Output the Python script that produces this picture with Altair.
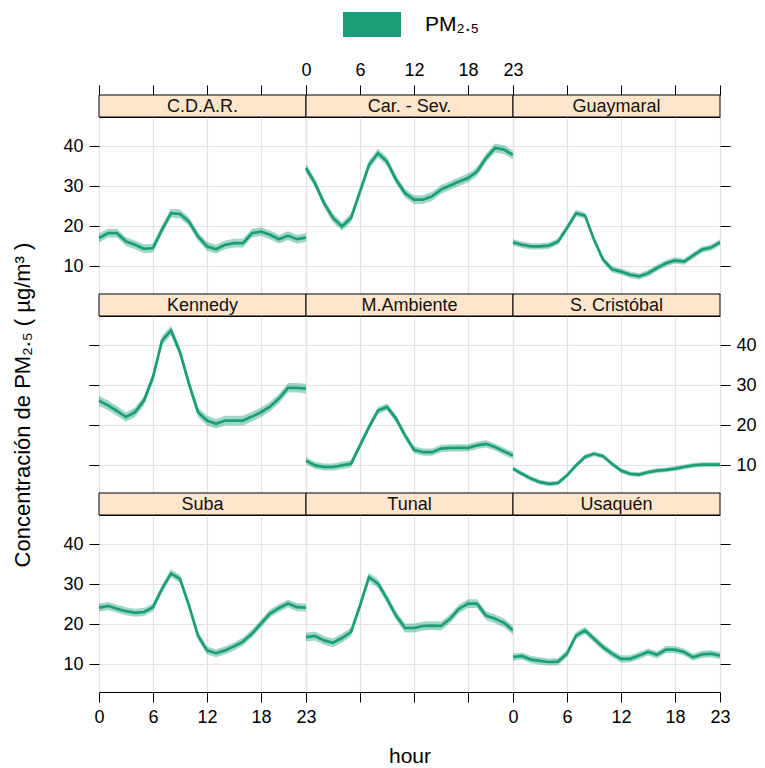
import altair as alt
import pandas as pd

hours = list(range(24))
stations = ["C.D.A.R.", "Car. - Sev.", "Guaymaral", "Kennedy", "M.Ambiente",
            "S. Cristóbal", "Suba", "Tunal", "Usaquén"]

cdar = [17.1, 18.3, 18.3, 16.2, 15.4, 14.4, 14.6, 19.2, 23.3, 23.1, 21.2, 17.5,
        15.0, 14.3, 15.4, 15.8, 15.8, 18.3, 18.7, 17.9, 16.8, 17.7, 16.8, 17.2]
carsev = [34.6, 30.8, 25.8, 22.1, 20.0, 22.1, 28.7, 35.4, 38.3, 36.2, 31.7, 28.3,
          26.7, 26.7, 27.5, 29.2, 30.2, 31.2, 32.1, 33.7, 37.1, 39.6, 39.2, 37.9]
guaymaral = [16.0, 15.4, 15.0, 15.0, 15.2, 16.2, 19.6, 23.3, 22.7, 16.7, 11.7, 9.3,
             8.7, 7.9, 7.5, 8.3, 9.6, 10.8, 11.5, 11.2, 12.7, 14.2, 14.7, 16.0]
kennedy = [26.2, 25.0, 23.6, 22.1, 23.3, 26.2, 32.1, 41.2, 43.7, 38.3, 30.4, 23.3,
           21.2, 20.4, 21.2, 21.2, 21.2, 22.2, 23.3, 24.7, 26.7, 29.4, 29.4, 29.2]
mambiente = [11.2, 10.0, 9.6, 9.6, 10.0, 10.4, 15.0, 19.6, 23.7, 24.6, 21.7, 17.5,
             13.9, 13.3, 13.3, 14.2, 14.4, 14.4, 14.4, 15.0, 15.4, 14.6, 13.5, 12.5]
scristobal = [9.2, 7.9, 6.7, 5.8, 5.4, 5.6, 7.5, 10.0, 12.1, 12.9, 12.3, 10.4,
              8.7, 7.9, 7.7, 8.3, 8.7, 8.9, 9.2, 9.6, 10.0, 10.2, 10.2, 10.2]
suba = [24.2, 24.6, 23.9, 23.3, 22.9, 23.1, 24.3, 28.9, 32.7, 31.4, 24.7, 17.2,
        13.5, 12.8, 13.5, 14.5, 15.7, 17.7, 20.2, 22.7, 24.1, 25.2, 24.3, 24.2]
tunal = [16.8, 17.1, 16.0, 15.4, 16.6, 18.1, 24.7, 31.8, 30.2, 26.4, 22.2, 19.1,
         19.1, 19.6, 19.7, 19.6, 21.4, 23.9, 25.2, 25.2, 22.2, 21.4, 20.4, 18.5]
usaquen = [11.8, 12.1, 11.2, 10.9, 10.6, 10.7, 12.7, 17.2, 18.5, 16.4, 14.3, 12.7,
           11.4, 11.4, 12.2, 13.1, 12.4, 13.7, 13.7, 13.1, 11.8, 12.5, 12.7, 12.2]
series = [cdar, carsev, guaymaral, kennedy, mambiente, scristobal, suba, tunal, usaquen]
ci = [1.1, 1.1, 0.8, 1.2, 0.9, 0.6, 1.0, 1.1, 0.9]

x_ticks = [0, 6, 12, 18, 23]
y_ticks = [10, 20, 30, 40]
LABEL = "PM₂.₅"
YTITLE = "Concentración de PM₂.₅ ( µg/m³ )"

W, H, S = 207, 177, 22
YDOM = [3.1, 47.35]
GREEN = "#1b9e77"
FONT = "Liberation Sans"
GRID = "#e2e2e2"


def axis(orient, vals, show_ticks, show_labels, title=None, offset=0, tpad=0, tsize=22):
    kw = dict(orient=orient, values=vals, grid=True, gridColor=GRID, gridWidth=1.2,
              domain=False, ticks=show_ticks, labels=show_labels,
              tickSize=10, tickColor="black", tickWidth=1,
              labelFont=FONT, labelFontSize=18, labelColor="black", labelPadding=6,
              labelFlush=False, labelOverlap=False)
    if offset:
        kw["offset"] = offset
    if title:
        kw.update(title=title, titleFont=FONT, titleFontSize=tsize, titleFontWeight="normal",
                  titleColor="black", titlePadding=tpad)
    else:
        kw["title"] = None
    return alt.Axis(**kw)


panels = []
for i, name in enumerate(stations):
    r, c = divmod(i, 3)
    vals = series[i]
    df = pd.DataFrame({
        "hour": hours,
        "value": vals,
        "lo": [v - ci[i] for v in vals],
        "hi": [v + ci[i] for v in vals],
        "series": [LABEL] * 24,
    })
    if r == 0:
        xax = axis("top", x_ticks, True, c == 1, offset=S)
    elif r == 2:
        xax = axis("bottom", x_ticks, True, c != 1,
                   title="hour" if c == 1 else None, tpad=43, tsize=21)
    else:
        xax = axis("bottom", x_ticks, False, False)
    if c == 0:
        yax = axis("left", y_ticks, True, r != 1,
                   title=YTITLE if r == 1 else None, tpad=54)
    elif c == 2:
        yax = axis("right", y_ticks, True, r == 1)
    else:
        yax = axis("left", y_ticks, False, False)

    xs = alt.Scale(domain=[0, 23], nice=False, zero=False)
    ys = alt.Scale(domain=YDOM, nice=False, zero=False)

    band = alt.Chart(df).mark_area(opacity=0.42).encode(
        x=alt.X("hour:Q", scale=xs, axis=xax),
        y=alt.Y("lo:Q", scale=ys, axis=yax),
        y2="hi:Q",
        color=alt.Color("series:N", scale=alt.Scale(domain=[LABEL], range=[GREEN]),
                        legend=alt.Legend(title=None, orient="none", legendX=260.5, legendY=-105,
                                          padding=0,
                                          symbolType="M-2.32,-1H2.32V1H-2.32Z", symbolSize=625,
                                          symbolOpacity=1, symbolStrokeWidth=0,
                                          labelFont=FONT, labelFontSize=21, labelColor="black",
                                          labelOffset=40.5)),
    )
    line = alt.Chart(df).mark_line(color=GREEN, strokeWidth=2.7).encode(
        x="hour:Q", y="value:Q")
    sdf = pd.DataFrame({"name": [name]})
    strip = alt.Chart(sdf).mark_rect(fill="#FFE5CC", stroke="black", strokeWidth=1).encode(
        x=alt.value(0), x2=alt.value(W), y=alt.value(-S), y2=alt.value(0))
    stext = alt.Chart(sdf).mark_text(font=FONT, fontSize=18, color="#111111").encode(
        x=alt.value(W / 2), y=alt.value(-S / 2 + 1), text="name:N")
    panels.append(alt.layer(band, line, strip, stext).properties(width=W, height=H))

chart = alt.concat(*panels, columns=3, spacing={"row": S, "column": 0}, bounds="flush")
chart = chart.resolve_scale(color="shared").resolve_legend(color="shared")
chart = chart.properties(padding={"left": 10, "top": 12, "right": 5, "bottom": 0},
                         background="white")
chart = chart.configure_view(stroke="black", strokeWidth=1)

chart.save("out.html", embed_options={"renderer": "svg", "actions": False})
